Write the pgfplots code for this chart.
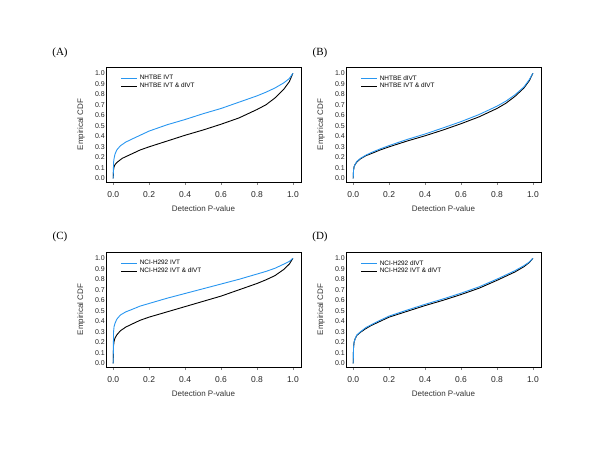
\documentclass[border=0pt]{standalone}
\usepackage{pgfplots}
\pgfplotsset{compat=1.18}
\usepackage{fontspec}
\setmainfont{Liberation Sans}
\newfontfamily\serif{Liberation Serif}
\definecolor{cdfblue}{RGB}{40,150,240}

\pgfplotsset{
  panel/.style={
    scale only axis, width=195pt, height=115pt,
    anchor=south west,
    xmin=-0.04, xmax=1.045, ymin=-0.035, ymax=1.06,
    xtick={0,0.2,...,1}, ytick={0,0.1,...,1},
    /pgf/number format/fixed,
    /pgf/number format/fixed zerofill,
    /pgf/number format/precision=1,
    /pgf/number format/assume math mode=true,
    xticklabel style={font=\fontsize{8.5}{9}\selectfont, yshift=-3pt, color=black!85},
    yticklabel style={font=\fontsize{7}{8}\selectfont, inner sep=1pt, color=black!85},
    xtick align=outside, ytick style={draw=none},
    major tick length=3pt, xtick pos=bottom, ytick pos=left,
    axis line style={line width=0.95pt},
    xtick style={line width=0.8pt},
    label style={font=\fontsize{8}{9}\selectfont, color=black!80},
    xlabel={Detection P-value}, ylabel={Empirical CDF},
    xlabel style={at={(axis description cs:0.5,-0.235)}, anchor=center},
    ylabel style={at={(axis description cs:-0.128,0.5)}, anchor=center},
    legend style={draw=none, fill=none, at={(0.07,0.955)}, anchor=north west,
      font=\fontsize{6.4}{7}\selectfont, row sep=-2.2pt, inner sep=1pt},
    legend cell align=left, reverse legend,
    legend image code/.code={\draw[#1, line width=1pt] (0pt,0pt) -- (16pt,0pt);},
    every axis plot/.append style={line width=0.9pt},
  }
}

\begin{document}
\begin{tikzpicture}
\path[use as bounding box] (0,0) rectangle (600pt,450pt);

\node[font=\serif\fontsize{11}{12}\selectfont] at (60pt,397pt) {(A)};
\node[font=\serif\fontsize{11}{12}\selectfont] at (320pt,397pt) {(B)};
\node[font=\serif\fontsize{11}{12}\selectfont] at (60pt,213pt) {(C)};
\node[font=\serif\fontsize{11}{12}\selectfont] at (320pt,213pt) {(D)};

% (A)
\begin{axis}[panel, at={(106pt,268pt)}]
\addplot[black] coordinates {
 (0,0) (0.002,0.08) (0.005,0.11) (0.01,0.13) (0.02,0.15) (0.05,0.19) (0.1,0.23)
 (0.15,0.27) (0.2,0.30) (0.3,0.355) (0.4,0.41) (0.5,0.46) (0.6,0.515) (0.7,0.575)
 (0.8,0.655) (0.85,0.70) (0.9,0.765) (0.95,0.85) (0.98,0.92) (1,1.0)};
\addlegendentry{NHTBE IVT \& dIVT}
\addplot[cdfblue] coordinates {
 (0,0) (0.002,0.15) (0.005,0.19) (0.01,0.23) (0.02,0.27) (0.04,0.31) (0.07,0.345)
 (0.1,0.37) (0.15,0.41) (0.2,0.45) (0.3,0.51) (0.4,0.56) (0.5,0.615) (0.6,0.665)
 (0.7,0.725) (0.8,0.785) (0.85,0.82) (0.9,0.86) (0.95,0.91) (0.98,0.95) (1,1.0)};
\addlegendentry{NHTBE IVT}
\end{axis}

% (B)
\begin{axis}[panel, at={(346pt,268pt)}]
\addplot[black] coordinates {
 (0,0) (0.002,0.08) (0.005,0.11) (0.01,0.13) (0.02,0.155) (0.04,0.185) (0.07,0.215)
 (0.1,0.235) (0.15,0.27) (0.2,0.30) (0.3,0.355) (0.4,0.405) (0.5,0.46) (0.6,0.52)
 (0.7,0.585) (0.8,0.665) (0.85,0.715) (0.9,0.78) (0.95,0.86) (0.98,0.93) (1,1.0)};
\addlegendentry{NHTBE IVT \& dIVT}
\addplot[cdfblue] coordinates {
 (0,0) (0.002,0.08) (0.005,0.11) (0.01,0.13) (0.02,0.16) (0.04,0.19) (0.07,0.22)
 (0.1,0.245) (0.15,0.28) (0.2,0.312) (0.3,0.37) (0.4,0.422) (0.5,0.48) (0.6,0.54)
 (0.7,0.607) (0.8,0.687) (0.85,0.735) (0.9,0.795) (0.95,0.87) (0.98,0.94) (1,1.0)};
\addlegendentry{NHTBE dIVT}
\end{axis}

% (C)
\begin{axis}[panel, at={(106pt,83pt)}]
\addplot[black] coordinates {
 (0,0) (0.002,0.17) (0.005,0.21) (0.01,0.24) (0.02,0.27) (0.04,0.31) (0.07,0.345)
 (0.1,0.37) (0.15,0.41) (0.2,0.44) (0.3,0.49) (0.4,0.54) (0.5,0.59) (0.6,0.64)
 (0.7,0.70) (0.8,0.76) (0.85,0.795) (0.9,0.835) (0.95,0.895) (0.98,0.945) (1,1.0)};
\addlegendentry{NCI-H292 IVT \& dIVT}
\addplot[cdfblue] coordinates {
 (0,0) (0.002,0.30) (0.005,0.35) (0.01,0.38) (0.02,0.42) (0.04,0.46) (0.07,0.49)
 (0.1,0.51) (0.15,0.545) (0.2,0.57) (0.3,0.62) (0.4,0.665) (0.5,0.71) (0.6,0.755)
 (0.7,0.80) (0.8,0.85) (0.85,0.875) (0.9,0.905) (0.95,0.945) (0.98,0.97) (1,1.0)};
\addlegendentry{NCI-H292 IVT}
\end{axis}

% (D)
\begin{axis}[panel, at={(346pt,83pt)}]
\addplot[black] coordinates {
 (0,0) (0.002,0.15) (0.005,0.20) (0.01,0.23) (0.02,0.265) (0.04,0.295) (0.07,0.33)
 (0.1,0.36) (0.15,0.40) (0.2,0.44) (0.3,0.495) (0.4,0.55) (0.5,0.60) (0.6,0.655)
 (0.7,0.715) (0.8,0.79) (0.85,0.83) (0.9,0.87) (0.95,0.92) (0.98,0.96) (1,1.0)};
\addlegendentry{NCI-H292 IVT \& dIVT}
\addplot[cdfblue] coordinates {
 (0,0) (0.002,0.15) (0.005,0.20) (0.01,0.23) (0.02,0.27) (0.04,0.30) (0.07,0.34)
 (0.1,0.367) (0.15,0.41) (0.2,0.45) (0.3,0.507) (0.4,0.562) (0.5,0.613) (0.6,0.668)
 (0.7,0.728) (0.8,0.802) (0.85,0.842) (0.9,0.882) (0.95,0.93) (0.98,0.965) (1,1.0)};
\addlegendentry{NCI-H292 dIVT}
\end{axis}
\end{tikzpicture}
\end{document}
